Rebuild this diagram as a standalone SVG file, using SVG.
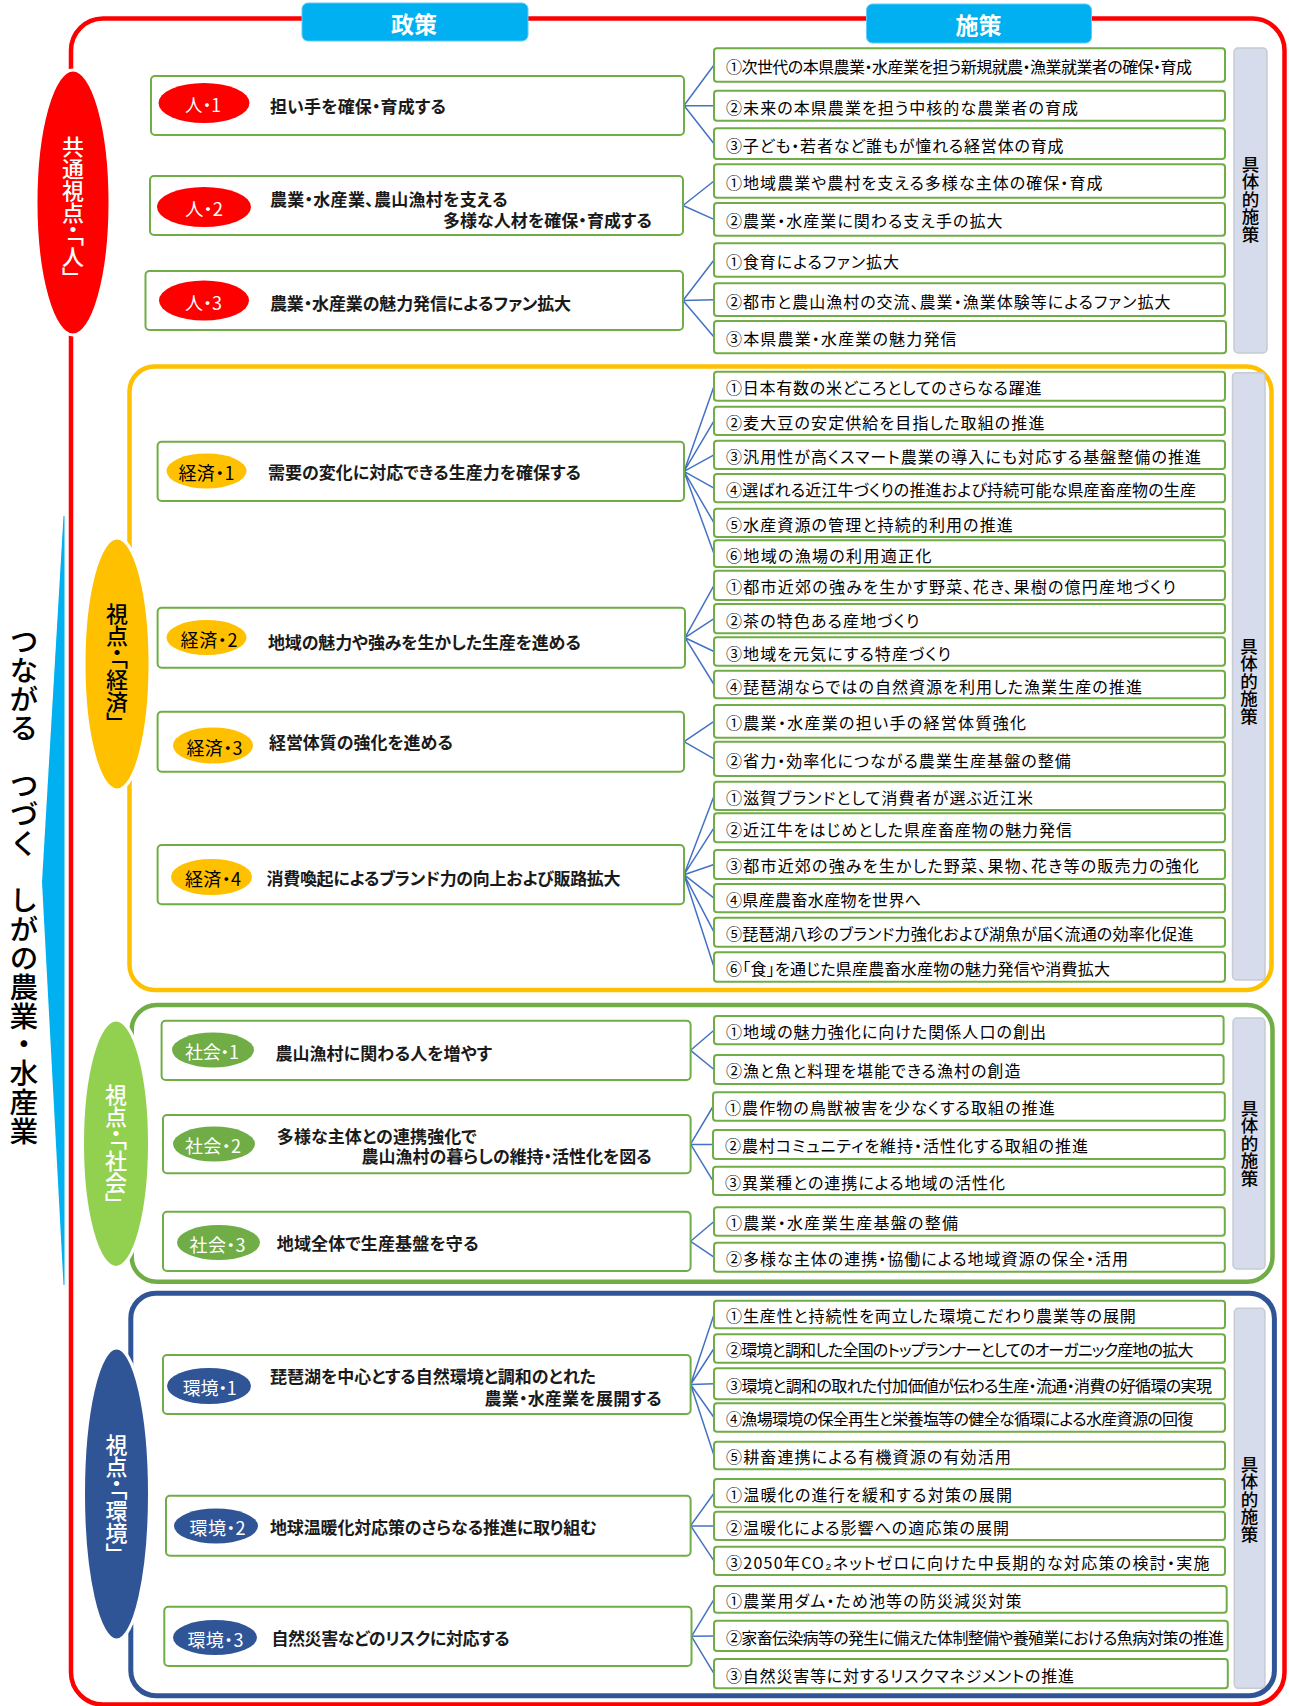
<svg xmlns="http://www.w3.org/2000/svg" width="1289" height="1706" viewBox="0 0 1289 1706">
<defs>
<style>
.bg{fill:#fff}
.pb{fill:#fff;stroke:#70AD47;stroke-width:2}
.mb{fill:#fff;stroke:#70AD47;stroke-width:2}
.gb{fill:#D6DCEB;stroke:#C6CBD4;stroke-width:1.5}
.cn{stroke:#4472C4;stroke-width:1.5;fill:none}
.hd{fill:#00B0F0;stroke:#5CCBF5;stroke-width:1}
.ht{font-family:"Noto Sans CJK JP",sans-serif;font-size:23px;font-weight:bold;fill:#fff}
.pt{font-family:"Noto Sans CJK JP",sans-serif;font-size:17px;font-weight:bold;fill:#1a1a1a;font-feature-settings:"palt"}
.mt{font-family:"Noto Sans CJK JP",sans-serif;font-size:16px;fill:#000;font-feature-settings:"palt"}
.lt{font-family:"Noto Sans CJK JP",sans-serif;font-size:18px;font-feature-settings:"palt"}
.vt{font-family:"Noto Sans CJK JP",sans-serif;font-size:22px;font-weight:500;writing-mode:vertical-rl;font-feature-settings:"vpal"}
.gt{font-family:"Noto Sans CJK JP",sans-serif;font-size:17.5px;font-weight:500;writing-mode:vertical-rl;fill:#000}
.tt{font-family:"Noto Sans CJK JP",sans-serif;font-size:28.8px;font-weight:500;writing-mode:vertical-rl;fill:#000}
.bigel{stroke:#fff;stroke-width:3}
</style>
</defs>
<rect class="bg" x="0" y="0" width="1289" height="1706"/>

<g id="outer-frame">
<rect x="71" y="18.5" width="1213.5" height="1686" rx="32" fill="none" stroke="#FF0000" stroke-width="4.5"/>
</g>

<g id="title">
<polygon points="63.5,516 42,882 63.5,1285 64.5,1285 64.5,516" fill="#00B0F0"/>
<text class="tt" x="24" y="886" text-anchor="middle">つながる　つづく　しがの農業・水産業</text>
</g>

<g id="header-seisaku">
<rect class="hd" x="302" y="3" width="226" height="38" rx="6"/>
<text class="ht" x="414" y="23" text-anchor="middle" dominant-baseline="central">政策</text>
</g>
<g id="header-shisaku">
<rect class="hd" x="866.5" y="4" width="225" height="39" rx="6"/>
<text class="ht" x="978.5" y="24" text-anchor="middle" dominant-baseline="central">施策</text>
</g>

<g id="frame-keizai"><rect x="129.5" y="366.6" width="1142" height="623.4" rx="25" fill="none" stroke="#FFC000" stroke-width="4.5"/></g>
<g id="frame-shakai"><rect x="131.7" y="1005" width="1140.8" height="276.7" rx="25" fill="none" stroke="#70AD47" stroke-width="4.5"/></g>
<g id="frame-kankyo"><rect x="130.8" y="1293.3" width="1143.6" height="402.4" rx="25" fill="none" stroke="#2F5597" stroke-width="5"/></g>

<g id="view-hito">
<ellipse class="bigel" cx="73" cy="202.5" rx="37" ry="132.5" fill="#FF0000"/>
<text class="vt" x="73" y="207" text-anchor="middle" fill="#fff">共通視点・「人」</text>
</g>
<g id="view-keizai">
<ellipse class="bigel" cx="117" cy="664" rx="33" ry="126" fill="#FFC000"/>
<text class="vt" x="117" y="663" text-anchor="middle" fill="#000">視点・「経済」</text>
</g>
<g id="view-shakai">
<ellipse class="bigel" cx="116" cy="1143.7" rx="33.5" ry="123.7" fill="#92D050"/>
<text class="vt" x="116" y="1144" text-anchor="middle" fill="#fff">視点・「社会」</text>
</g>
<g id="view-kankyo">
<ellipse class="bigel" cx="116.5" cy="1494" rx="33" ry="146" fill="#2F5597"/>
<text class="vt" x="116.5" y="1494" text-anchor="middle" fill="#fff">視点・「環境」</text>
</g>

<g id="connectors" class="cn">
<path d="M684,105.5L714,65M684,105.5L714,105.7M684,105.5L714,143.7"/>
<path d="M683,205.5L714,181M683,205.5L714,219.4"/>
<path d="M683,300.5L714,260M683,300.5L714,299.7M683,300.5L714,337"/>
<path d="M684,471.4L714,386.2M684,471.4L714,420.9M684,471.4L714,454.9M684,471.4L714,488.2M684,471.4L714,522.9M684,471.4L714,553.7"/>
<path d="M685,637.7L714,585.4M685,637.7L714,618.7M685,637.7L714,651.5M685,637.7L714,684.5"/>
<path d="M684,741.7L714,721.4M684,741.7L714,758.9"/>
<path d="M684,874.7L714,795.9M684,874.7L714,827.8M684,874.7L714,864.5M684,874.7L714,898.2M684,874.7L714,932.2M684,874.7L714,967"/>
<path d="M690.6,1050.3L714,1030.2M690.6,1050.3L714,1069.5"/>
<path d="M690.6,1144.2L713,1106.5M690.6,1144.2L713,1144.5M690.6,1144.2L713,1180.9"/>
<path d="M690.6,1241.3L714,1221.5M690.6,1241.3L714,1257.2"/>
<path d="M690.6,1384.5L714,1314.5M690.6,1384.5L714,1348.5M690.6,1384.5L714,1383.8M690.6,1384.5L714,1417.5M690.6,1384.5L714,1455.5"/>
<path d="M690.6,1525.7L714,1493.2M690.6,1525.7L714,1525.9M690.6,1525.7L714,1560.9"/>
<path d="M691.5,1636.3L714,1599.4M691.5,1636.3L714,1635.9M691.5,1636.3L714,1673.7"/>
</g>

<g id="p-hito1">
<rect class="pb" x="151" y="76" width="533" height="59" rx="4"/>
<ellipse cx="204" cy="103" rx="45.5" ry="20" fill="#FF0000"/>
<text class="lt" x="203" y="104" text-anchor="middle" dominant-baseline="central" fill="#fff" font-size="19" textLength="36" lengthAdjust="spacingAndGlyphs">人・1</text>
<text class="pt" x="270" y="105" dominant-baseline="central" textLength="176" lengthAdjust="spacing">担い手を確保・育成する</text>
</g>
<g id="p-hito2">
<rect class="pb" x="150" y="176" width="533" height="59" rx="4"/>
<ellipse cx="204" cy="207" rx="47" ry="20" fill="#FF0000"/>
<text class="lt" x="204" y="208" text-anchor="middle" dominant-baseline="central" fill="#fff" font-size="19" textLength="38" lengthAdjust="spacingAndGlyphs">人・2</text>
<text class="pt" x="270" y="198.5" dominant-baseline="central" textLength="237.6" lengthAdjust="spacing">農業・水産業、農山漁村を支える</text>
<text class="pt" x="443" y="219" dominant-baseline="central" textLength="209" lengthAdjust="spacing">多様な人材を確保・育成する</text>
</g>
<g id="p-hito3">
<rect class="pb" x="145.5" y="271" width="537.5" height="59" rx="4"/>
<ellipse cx="204" cy="300.5" rx="45" ry="20" fill="#FF0000"/>
<text class="lt" x="203.5" y="301.5" text-anchor="middle" dominant-baseline="central" fill="#fff" font-size="19" textLength="37" lengthAdjust="spacingAndGlyphs">人・3</text>
<text class="pt" x="270" y="302" dominant-baseline="central" textLength="301" lengthAdjust="spacing">農業・水産業の魅力発信によるファン拡大</text>
</g>

<g id="m-hito">
<rect class="mb" x="714" y="48.3" width="511" height="33.4" rx="3"/>
<text class="mt" x="726" y="65.5" dominant-baseline="central" textLength="466" lengthAdjust="spacing">①次世代の本県農業・水産業を担う新規就農・漁業就業者の確保・育成</text>
<rect class="mb" x="714" y="90.7" width="511" height="30" rx="3"/>
<text class="mt" x="726" y="106.5" dominant-baseline="central" textLength="352" lengthAdjust="spacing">②未来の本県農業を担う中核的な農業者の育成</text>
<rect class="mb" x="714" y="128.3" width="511" height="30.7" rx="3"/>
<text class="mt" x="726" y="144.5" dominant-baseline="central" textLength="337.6" lengthAdjust="spacing">③子ども・若者など誰もが憧れる経営体の育成</text>
<rect class="mb" x="714" y="164.3" width="511" height="33.4" rx="3"/>
<text class="mt" x="726" y="182" dominant-baseline="central" textLength="376.5" lengthAdjust="spacing">①地域農業や農村を支える多様な主体の確保・育成</text>
<rect class="mb" x="714" y="203" width="511" height="32.7" rx="3"/>
<text class="mt" x="726" y="220" dominant-baseline="central" textLength="276.5" lengthAdjust="spacing">②農業・水産業に関わる支え手の拡大</text>
<rect class="mb" x="714" y="243.3" width="511" height="33.4" rx="3"/>
<text class="mt" x="726" y="261" dominant-baseline="central" textLength="173" lengthAdjust="spacing">①食育によるファン拡大</text>
<rect class="mb" x="714" y="283.3" width="511" height="32.7" rx="3"/>
<text class="mt" x="726" y="300.5" dominant-baseline="central" textLength="444.5" lengthAdjust="spacing">②都市と農山漁村の交流、農業・漁業体験等によるファン拡大</text>
<rect class="mb" x="714" y="321" width="512" height="32.3" rx="3"/>
<text class="mt" x="726" y="338" dominant-baseline="central" textLength="230.6" lengthAdjust="spacing">③本県農業・水産業の魅力発信</text>
</g>
<g id="g-hito">
<rect class="gb" x="1234" y="48" width="33" height="305" rx="4"/>
<text class="gt" x="1250.5" y="199" text-anchor="middle">具体的施策</text>
</g>

<g id="p-keizai1">
<rect class="pb" x="157.6" y="441.7" width="526.4" height="59.3" rx="4"/>
<ellipse cx="206.5" cy="471" rx="40" ry="17.5" fill="#FFC000"/>
<text class="lt" x="206.5" y="472" text-anchor="middle" dominant-baseline="central" fill="#000" textLength="56" lengthAdjust="spacing">経済・1</text>
<text class="pt" x="268" y="471.7" dominant-baseline="central" textLength="313" lengthAdjust="spacing">需要の変化に対応できる生産力を確保する</text>
</g>
<g id="p-keizai2">
<rect class="pb" x="157.6" y="607.7" width="527.4" height="60" rx="4"/>
<ellipse cx="206.5" cy="637.5" rx="40" ry="17.5" fill="#FFC000"/>
<text class="lt" x="209" y="638.5" text-anchor="middle" dominant-baseline="central" fill="#000" textLength="57" lengthAdjust="spacing">経済・2</text>
<text class="pt" x="268" y="641.7" dominant-baseline="central" textLength="313" lengthAdjust="spacing">地域の魅力や強みを生かした生産を進める</text>
</g>
<g id="p-keizai3">
<rect class="pb" x="157.6" y="711.7" width="526.4" height="60" rx="4"/>
<ellipse cx="213" cy="745.5" rx="40" ry="18" fill="#FFC000"/>
<text class="lt" x="214.5" y="746.5" text-anchor="middle" dominant-baseline="central" fill="#000" textLength="56" lengthAdjust="spacing">経済・3</text>
<text class="pt" x="269" y="741.7" dominant-baseline="central" textLength="184" lengthAdjust="spacing">経営体質の強化を進める</text>
</g>
<g id="p-keizai4">
<rect class="pb" x="157.6" y="845" width="526.4" height="59.3" rx="4"/>
<ellipse cx="211.5" cy="877" rx="40.5" ry="18" fill="#FFC000"/>
<text class="lt" x="213" y="878" text-anchor="middle" dominant-baseline="central" fill="#000" textLength="56" lengthAdjust="spacing">経済・4</text>
<text class="pt" x="266.5" y="877" dominant-baseline="central" textLength="354" lengthAdjust="spacing">消費喚起によるブランド力の向上および販路拡大</text>
</g>

<g id="m-keizai">
<rect class="mb" x="714" y="371.7" width="511" height="29" rx="3"/>
<text class="mt" x="726" y="387" dominant-baseline="central" textLength="315.4" lengthAdjust="spacing">①日本有数の米どころとしてのさらなる躍進</text>
<rect class="mb" x="714" y="406.7" width="511" height="28.3" rx="3"/>
<text class="mt" x="726" y="421.5" dominant-baseline="central" textLength="318.5" lengthAdjust="spacing">②麦大豆の安定供給を目指した取組の推進</text>
<rect class="mb" x="714" y="440.7" width="511" height="28.3" rx="3"/>
<text class="mt" x="726" y="455.5" dominant-baseline="central" textLength="475" lengthAdjust="spacing">③汎用性が高くスマート農業の導入にも対応する基盤整備の推進</text>
<rect class="mb" x="714" y="474" width="511" height="28.3" rx="3"/>
<text class="mt" x="726" y="489" dominant-baseline="central" textLength="470" lengthAdjust="spacing">④選ばれる近江牛づくりの推進および持続可能な県産畜産物の生産</text>
<rect class="mb" x="714" y="508.7" width="511" height="28.3" rx="3"/>
<text class="mt" x="726" y="523.5" dominant-baseline="central" textLength="286.8" lengthAdjust="spacing">⑤水産資源の管理と持続的利用の推進</text>
<rect class="mb" x="714" y="540.3" width="511" height="26.7" rx="3"/>
<text class="mt" x="726" y="554.5" dominant-baseline="central" textLength="205.4" lengthAdjust="spacing">⑥地域の漁場の利用適正化</text>
<rect class="mb" x="714" y="570.7" width="511" height="29.3" rx="3"/>
<text class="mt" x="726" y="586" dominant-baseline="central" textLength="449.9" lengthAdjust="spacing">①都市近郊の強みを生かす野菜、花き、果樹の億円産地づくり</text>
<rect class="mb" x="714" y="604" width="511" height="29.3" rx="3"/>
<text class="mt" x="726" y="619.5" dominant-baseline="central" textLength="193.2" lengthAdjust="spacing">②茶の特色ある産地づくり</text>
<rect class="mb" x="714" y="637.3" width="511" height="28.4" rx="3"/>
<text class="mt" x="726" y="652.5" dominant-baseline="central" textLength="224.9" lengthAdjust="spacing">③地域を元気にする特産づくり</text>
<rect class="mb" x="714" y="670.7" width="511" height="27.6" rx="3"/>
<text class="mt" x="726" y="685.5" dominant-baseline="central" textLength="415.9" lengthAdjust="spacing">④琵琶湖ならではの自然資源を利用した漁業生産の推進</text>
<rect class="mb" x="714" y="705" width="511" height="32.7" rx="3"/>
<text class="mt" x="726" y="722" dominant-baseline="central" textLength="300" lengthAdjust="spacing">①農業・水産業の担い手の経営体質強化</text>
<rect class="mb" x="714" y="741.7" width="511" height="34.3" rx="3"/>
<text class="mt" x="726" y="760" dominant-baseline="central" textLength="344.8" lengthAdjust="spacing">②省力・効率化につながる農業生産基盤の整備</text>
<rect class="mb" x="714" y="781.7" width="511" height="28.3" rx="3"/>
<text class="mt" x="726" y="796.5" dominant-baseline="central" textLength="307" lengthAdjust="spacing">①滋賀ブランドとして消費者が選ぶ近江米</text>
<rect class="mb" x="714" y="813.3" width="511" height="29" rx="3"/>
<text class="mt" x="726" y="828.5" dominant-baseline="central" textLength="346" lengthAdjust="spacing">②近江牛をはじめとした県産畜産物の魅力発信</text>
<rect class="mb" x="714" y="850" width="511" height="29" rx="3"/>
<text class="mt" x="726" y="865" dominant-baseline="central" textLength="472.8" lengthAdjust="spacing">③都市近郊の強みを生かした野菜、果物、花き等の販売力の強化</text>
<rect class="mb" x="714" y="884" width="511" height="28.3" rx="3"/>
<text class="mt" x="726" y="898.5" dominant-baseline="central" textLength="195" lengthAdjust="spacing">④県産農畜水産物を世界へ</text>
<rect class="mb" x="714" y="917.7" width="511" height="29" rx="3"/>
<text class="mt" x="726" y="933" dominant-baseline="central" textLength="467.4" lengthAdjust="spacing">⑤琵琶湖八珍のブランド力強化および湖魚が届く流通の効率化促進</text>
<rect class="mb" x="714" y="952.3" width="511" height="29.4" rx="3"/>
<text class="mt" x="726" y="967.5" dominant-baseline="central" textLength="384" lengthAdjust="spacing">⑥「食」を通じた県産農畜水産物の魅力発信や消費拡大</text>
</g>
<g id="g-keizai">
<rect class="gb" x="1232.5" y="372.7" width="32.5" height="607.3" rx="4"/>
<text class="gt" x="1249" y="681" text-anchor="middle">具体的施策</text>
</g>

<g id="p-shakai1">
<rect class="pb" x="161.6" y="1020.7" width="529" height="59.3" rx="4"/>
<ellipse cx="213" cy="1050" rx="41" ry="17.5" fill="#70AD47"/>
<text class="lt" x="212" y="1051" text-anchor="middle" dominant-baseline="central" fill="#fff" textLength="54" lengthAdjust="spacing">社会・1</text>
<text class="pt" x="275.4" y="1052.3" dominant-baseline="central" textLength="216.6" lengthAdjust="spacing">農山漁村に関わる人を増やす</text>
</g>
<g id="p-shakai2">
<rect class="pb" x="163" y="1115" width="527.6" height="58.3" rx="4"/>
<ellipse cx="214" cy="1144" rx="41" ry="17.5" fill="#70AD47"/>
<text class="lt" x="213" y="1145" text-anchor="middle" dominant-baseline="central" fill="#fff" textLength="56" lengthAdjust="spacing">社会・2</text>
<text class="pt" x="276.8" y="1135.7" dominant-baseline="central" textLength="200" lengthAdjust="spacing">多様な主体との連携強化で</text>
<text class="pt" x="361.6" y="1155.7" dominant-baseline="central" textLength="290.2" lengthAdjust="spacing">農山漁村の暮らしの維持・活性化を図る</text>
</g>
<g id="p-shakai3">
<rect class="pb" x="163" y="1211.7" width="527.6" height="59.3" rx="4"/>
<ellipse cx="218.5" cy="1242.5" rx="41.5" ry="17.5" fill="#70AD47"/>
<text class="lt" x="217.6" y="1243.5" text-anchor="middle" dominant-baseline="central" fill="#fff" textLength="56" lengthAdjust="spacing">社会・3</text>
<text class="pt" x="276.8" y="1242.3" dominant-baseline="central" textLength="201.8" lengthAdjust="spacing">地域全体で生産基盤を守る</text>
</g>

<g id="m-shakai">
<rect class="mb" x="714" y="1016" width="509.6" height="28.3" rx="3"/>
<text class="mt" x="726" y="1030.5" dominant-baseline="central" textLength="320" lengthAdjust="spacing">①地域の魅力強化に向けた関係人口の創出</text>
<rect class="mb" x="714" y="1055" width="509.6" height="29" rx="3"/>
<text class="mt" x="726" y="1070" dominant-baseline="central" textLength="294.4" lengthAdjust="spacing">②漁と魚と料理を堪能できる漁村の創造</text>
<rect class="mb" x="713" y="1092.3" width="511.8" height="28.4" rx="3"/>
<text class="mt" x="725" y="1107" dominant-baseline="central" textLength="329.8" lengthAdjust="spacing">①農作物の鳥獣被害を少なくする取組の推進</text>
<rect class="mb" x="713" y="1130" width="511.8" height="29" rx="3"/>
<text class="mt" x="725" y="1145" dominant-baseline="central" textLength="363" lengthAdjust="spacing">②農村コミュニティを維持・活性化する取組の推進</text>
<rect class="mb" x="713" y="1166.7" width="511.8" height="28.3" rx="3"/>
<text class="mt" x="725" y="1181.5" dominant-baseline="central" textLength="280" lengthAdjust="spacing">③異業種との連携による地域の活性化</text>
<rect class="mb" x="714" y="1207.3" width="510.8" height="28.4" rx="3"/>
<text class="mt" x="726" y="1222" dominant-baseline="central" textLength="232" lengthAdjust="spacing">①農業・水産業生産基盤の整備</text>
<rect class="mb" x="714" y="1242.7" width="510.8" height="29" rx="3"/>
<text class="mt" x="726" y="1258" dominant-baseline="central" textLength="402" lengthAdjust="spacing">②多様な主体の連携・協働による地域資源の保全・活用</text>
</g>
<g id="g-shakai">
<rect class="gb" x="1233" y="1018" width="32" height="251" rx="4"/>
<text class="gt" x="1249.5" y="1143" text-anchor="middle">具体的施策</text>
</g>

<g id="p-kankyo1">
<rect class="pb" x="163" y="1355" width="527.6" height="59" rx="4"/>
<ellipse cx="209" cy="1386" rx="42" ry="18" fill="#2F5597"/>
<text class="lt" x="209.8" y="1387" text-anchor="middle" dominant-baseline="central" fill="#fff" textLength="54" lengthAdjust="spacing">環境・1</text>
<text class="pt" x="270" y="1375.2" dominant-baseline="central" textLength="326" lengthAdjust="spacing">琵琶湖を中心とする自然環境と調和のとれた</text>
<text class="pt" x="484.4" y="1397.2" dominant-baseline="central" textLength="177.2" lengthAdjust="spacing">農業・水産業を展開する</text>
</g>
<g id="p-kankyo2">
<rect class="pb" x="166" y="1495.7" width="524.6" height="60" rx="4"/>
<ellipse cx="216" cy="1526" rx="42" ry="17.5" fill="#2F5597"/>
<text class="lt" x="217.6" y="1527" text-anchor="middle" dominant-baseline="central" fill="#fff" textLength="56" lengthAdjust="spacing">環境・2</text>
<text class="pt" x="270" y="1526.7" dominant-baseline="central" textLength="327" lengthAdjust="spacing">地球温暖化対応策のさらなる推進に取り組む</text>
</g>
<g id="p-kankyo3">
<rect class="pb" x="164.3" y="1606.7" width="527.2" height="59.3" rx="4"/>
<ellipse cx="215" cy="1637.5" rx="42" ry="17.5" fill="#2F5597"/>
<text class="lt" x="215.4" y="1638.5" text-anchor="middle" dominant-baseline="central" fill="#fff" textLength="56" lengthAdjust="spacing">環境・3</text>
<text class="pt" x="271.4" y="1637.3" dominant-baseline="central" textLength="238.4" lengthAdjust="spacing">自然災害などのリスクに対応する</text>
</g>

<g id="m-kankyo">
<rect class="mb" x="714" y="1300.7" width="511" height="27.6" rx="3"/>
<text class="mt" x="726" y="1315" dominant-baseline="central" textLength="409.8" lengthAdjust="spacing">①生産性と持続性を両立した環境こだわり農業等の展開</text>
<rect class="mb" x="714" y="1334.3" width="511" height="28.4" rx="3"/>
<text class="mt" x="726" y="1349" dominant-baseline="central" textLength="467.4" lengthAdjust="spacing">②環境と調和した全国のトップランナーとしてのオーガニック産地の拡大</text>
<rect class="mb" x="714" y="1368.3" width="511" height="31" rx="3"/>
<text class="mt" x="726" y="1384.5" dominant-baseline="central" textLength="486" lengthAdjust="spacing">③環境と調和の取れた付加価値が伝わる生産・流通・消費の好循環の実現</text>
<rect class="mb" x="714" y="1403.3" width="511" height="28.4" rx="3"/>
<text class="mt" x="726" y="1418" dominant-baseline="central" textLength="467.4" lengthAdjust="spacing">④漁場環境の保全再生と栄養塩等の健全な循環による水産資源の回復</text>
<rect class="mb" x="714" y="1441.7" width="511" height="27.6" rx="3"/>
<text class="mt" x="726" y="1456" dominant-baseline="central" textLength="284.9" lengthAdjust="spacing">⑤耕畜連携による有機資源の有効活用</text>
<rect class="mb" x="714" y="1479" width="511" height="28.3" rx="3"/>
<text class="mt" x="726" y="1494" dominant-baseline="central" textLength="286" lengthAdjust="spacing">①温暖化の進行を緩和する対策の展開</text>
<rect class="mb" x="714" y="1511.7" width="511" height="28.3" rx="3"/>
<text class="mt" x="726" y="1526.5" dominant-baseline="central" textLength="283" lengthAdjust="spacing">②温暖化による影響への適応策の展開</text>
<rect class="mb" x="714" y="1546.7" width="511" height="28.3" rx="3"/>
<text class="mt" x="726" y="1561.5" dominant-baseline="central" textLength="483.5" lengthAdjust="spacing">③2050年CO₂ネットゼロに向けた中長期的な対応策の検討・実施</text>
<rect class="mb" x="714" y="1586" width="512.7" height="26.7" rx="3"/>
<text class="mt" x="726" y="1600" dominant-baseline="central" textLength="295.5" lengthAdjust="spacing">①農業用ダム・ため池等の防災減災対策</text>
<rect class="mb" x="714" y="1620.7" width="513.8" height="30.3" rx="3"/>
<text class="mt" x="726" y="1636.5" dominant-baseline="central" textLength="498" lengthAdjust="spacing">②家畜伝染病等の発生に備えた体制整備や養殖業における魚病対策の推進</text>
<rect class="mb" x="714" y="1659" width="513.8" height="29.3" rx="3"/>
<text class="mt" x="726" y="1674.5" dominant-baseline="central" textLength="348" lengthAdjust="spacing">③自然災害等に対するリスクマネジメントの推進</text>
</g>
<g id="g-kankyo">
<rect class="gb" x="1234.3" y="1308.3" width="30.6" height="380" rx="4"/>
<text class="gt" x="1249.6" y="1499" text-anchor="middle">具体的施策</text>
</g>
</svg>
